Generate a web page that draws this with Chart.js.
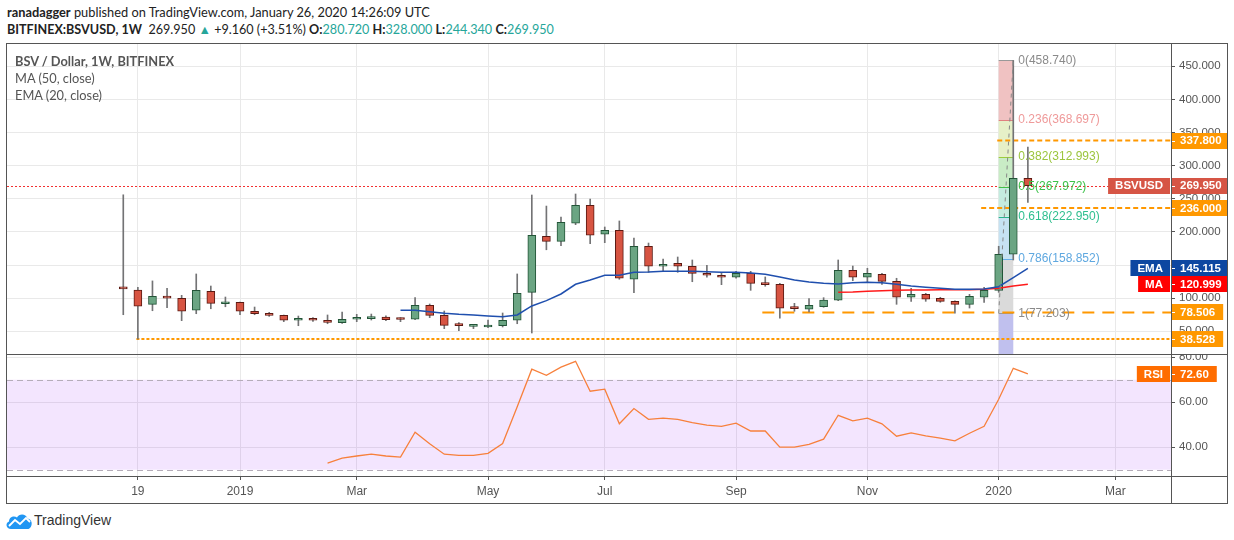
<!DOCTYPE html>
<html>
<head>
<meta charset="utf-8">
<script src="https://cdn.jsdelivr.net/npm/chart.js@4.4.1/dist/chart.umd.min.js"></script>
<style>
  body { margin: 0; width: 1234px; height: 540px; background: #fff; position: relative; overflow: hidden;
         font-family: "Liberation Sans", Arial, sans-serif; }
  .abs { position: absolute; }
  #h1 { left: 7px; top: 4px; font-family: Lato, sans-serif; font-size: 12.8px; color: #222; white-space: nowrap; }
  #h2 { left: 7px; top: 22px; font-family: Lato, sans-serif; font-size: 12.6px; color: #222; white-space: nowrap; }
  .up { color: #26a69a; }
  #legend { left: 15px; top: 53px; font-family: Lato, sans-serif; font-size: 12.8px; color: #555; line-height: 17px; }
  #legend div:first-child { font-weight: bold; }
  .line { position: absolute; background: #555; }
  #foot { left: 34px; top: 512px; font-size: 14px; color: #333; }
</style>
</head>
<body>
<div class="abs" id="h1"><b>ranadagger</b> published on TradingView.com, January 26, 2020 14:26:09 UTC</div>
<div class="abs" id="h2"><b>BITFINEX:BSVUSD, 1W</b>&nbsp; 269.950 <span class="up">▲</span> +9.160 (+3.51%) <b>O:</b><span class="up">280.720</span> <b>H:</b><span class="up">328.000</span> <b>L:</b><span class="up">244.340</span> <b>C:</b><span class="up">269.950</span></div>

<div class="abs" style="left:7px;top:44px;width:1220px;height:310px"><canvas id="price" width="1220" height="310"></canvas></div>
<div class="abs" style="left:7px;top:355px;width:1220px;height:148px"><canvas id="rsi" width="1220" height="148"></canvas></div>

<div class="abs" id="legend"><div>BSV / Dollar, 1W, BITFINEX</div><div>MA (50, close)</div><div>EMA (20, close)</div></div>

<div class="line" style="left:6px;top:43px;width:1222px;height:1px"></div>
<div class="line" style="left:6px;top:503px;width:1222px;height:1px"></div>
<div class="line" style="left:6px;top:43px;width:1px;height:461px"></div>
<div class="line" style="left:1227px;top:43px;width:1px;height:461px"></div>
<div class="line" style="left:6px;top:354px;width:1222px;height:1px"></div>
<div class="line" style="left:6px;top:476px;width:1222px;height:1px"></div>
<div class="line" style="left:1171px;top:43px;width:1px;height:461px"></div>

<svg class="abs" style="left:5px;top:513px" width="28" height="17" viewBox="0 0 28 17">
  <path d="M6 16 C1 16 0 10 4 8.5 C4 4 9 2 12 4.5 C14 0.5 21 0.5 22.5 5.5 C27 6 28 12 25 15 C24 16 23 16 22 16 Z" fill="#2196f3"/>
  <polyline points="4,13 10,7 15,11 21,5 25,9" fill="none" stroke="#fff" stroke-width="1.8"/>
</svg>
<div class="abs" id="foot">TradingView</div>

<script>
const FONT = '"Liberation Sans", Arial, sans-serif';

// weekly candles, week 0 = 12 Nov 2018
const opens  = [115,112,90.7,101.5,99.8,81.7,110.3,91.6,93.7,80.2,
                77.1,74.1,66.6,69.6,64.8,63,68.1,69,71.5,68.6,
                68.1,89.2,74.1,59.5,57.5,56.5,58.4,66.6,108.8,193.4,
                185.8,213,240.2,196.4,202.4,128.5,178.3,148.1,152.6,148.1,
                137.5,134.5,131.5,137.5,121.5,120.9,85.2,83.2,87.1,96.8,
                142,131.5,136,125.4,101.3,105.8,99.8,95.2,90.7,101.3,
                111.8,166.2,280.72];
const highs  = [256,116.5,126,115,104.3,136.5,118.3,101.7,94,86.6,
                78.6,74.5,73,70.5,74.6,79,75.6,76,73.5,70.5,
                100.7,91.2,80.6,63,60,67,77.6,136.5,255.7,239,
                222.5,257.2,249.7,207.4,216.5,190.8,183.2,159.1,162.1,157.6,
                149.6,139,140.5,140.5,132,122.4,92.2,99.2,100.7,157.6,
                148.5,145.1,137.5,130,114.9,107.3,101.3,96,105.8,116.4,
                178.3,458.74,328];
const lows   = [75,38.53,81,85.5,66,76.5,84,87,75,75,
                72.5,64.5,58.4,65,61.4,62,64.5,67,66,64.5,
                67.5,70.5,53.9,51,54,55.4,56.5,61.4,47.4,173,
                179.2,210.9,182.2,183.7,128.5,108.2,139,140.5,139,124.8,
                131.5,120.3,130,111.8,118,69.6,80.2,79.1,86.2,96.2,
                126.3,123.9,120.9,90.7,95.2,95.2,93.7,77.203,85.1,93.7,
                108.8,157.6,244.34];
const closes = [114,88,102.8,100,80.2,111.8,92.2,94.2,80.2,76.5,
                74.1,66.6,69.6,66.6,63.5,68.1,70.5,72,67.5,67.8,
                89.2,74.1,59,58.5,58.5,59.5,66.6,107.3,194.9,185.8,
                214.5,240.2,194.9,202.4,130,178.3,148.1,151.1,148.1,137.5,
                134.5,131.5,137.5,122.4,120.5,84.7,84.2,89.2,97.2,142,
                131.5,137.5,125.4,101.3,105.8,98.3,95.2,90.7,102.8,111.8,
                166.2,280.72,269.95];
const weeks = opens.map((_, i) => i);

const emaStart = 19;
const ema20 = [81.7,81.7,79.5,77.1,75.6,74.6,73.1,72,74.6,88.2,
               96.2,106.3,120.9,127.4,134.5,134.5,139,139.5,140.5,140.5,
               140.5,139.9,139,139,138,136,131.9,127.4,124.4,122.4,
               121.4,123.3,123.9,123.3,120.9,118.3,116.4,114.9,113.4,113.4,
               113.8,117.3,130.9,145.115];
const maStart = 49;
const ma50 = [108.8,109.3,110.3,111.2,111.8,112.3,112.3,112.8,112.8,112.8,113.4,114.9,118.3,120.999];
const rsiStart = 14;
const rsi14 = [32.9,35.1,36.1,36.9,36.1,35.6,
               46.7,41.5,36.9,36.4,36.4,37.3,41.6,58,74.7,72,
               75.6,78.2,64.9,65.8,50.4,57.2,52.4,52.9,52.4,50.9,
               49.8,49.3,50.7,47.2,47.2,40,40,41.3,43.6,54.2,
               51.7,52.9,50.4,44.9,46.4,45,44,42.8,46.2,49.3,
               61.3,75.1,72.6];

// horizontal levels drawn on the chart (value, first week); [0] is the last price line
const levelVals  = [269.95, 337.8, 236.0, 78.506, 38.528];
const levelFrom  = [-8, 59.9, 58.8, 43.8, 0.9];

// fibonacci retracement
const fibHigh = 458.74, fibLow = 77.203;
const fibFromWeek = 60, fibToWeek = 61;
const fibRatios = [0, 0.236, 0.382, 0.5, 0.618, 0.786, 1];

const tickIdx    = [1, 8, 16, 25, 33, 42, 51, 60, 68];
const tickLabels = ['19', '2019', 'Mar', 'May', 'Jul', 'Sep', 'Nov', '2020', 'Mar'];
const priceTicks = [50, 100, 150, 200, 250, 300, 350, 400, 450];
const rsiTicks   = [40, 60, 80];
const rsiBand    = [70, 30];

const X_MIN = -7.97, X_MAX = 71.81;
const series = (start, vals) => vals.map((v, k) => ({ x: start + k, y: v }));
const fibLevels = fibRatios.map(r => fibHigh - r * (fibHigh - fibLow));
const fibFill = ['#f0c2c2', '#e6f0c8', '#c9ecc6', '#c4ecdf', '#c6e2f2', '#dadada', '#c0c0ee'];
const fibLine = ['#999999', '#e08080', '#9ccc3c', '#43c04a', '#26b58a', '#64aee6', '#999999'];
const fibText = ['#8a8a8a', '#ef9a9a', '#9bc53d', '#3cc24a', '#2fbf8f', '#5fa8e0', '#8a8a8a'];

// no extra padding from edge labels, so the plot fills the pane
const noPad = sc => { sc.paddingTop = 0; sc.paddingBottom = 0; sc.paddingLeft = 0; sc.paddingRight = 0; };

function xScale(showTicks) {
  return {
    type: 'linear', min: X_MIN, max: X_MAX, offset: false,
    afterBuildTicks: sc => { sc.ticks = tickIdx.map(v => ({ value: v })); },
    afterFit: sc => { noPad(sc); sc.height = showTicks ? 27 : 0; },
    grid: { color: '#e9e9e9', offset: false, drawTicks: showTicks, tickLength: 4, tickColor: '#555' },
    border: { display: false },
    ticks: { display: showTicks, autoSkip: false, maxRotation: 0, padding: 4, color: '#555',
             font: { family: FONT, size: 12 }, callback: (v, i) => tickLabels[i] }
  };
}

function yScale(min, max, ticks, digits) {
  return {
    position: 'right', min: min, max: max,
    afterBuildTicks: sc => { sc.ticks = ticks.map(v => ({ value: v })); },
    afterFit: sc => { noPad(sc); sc.width = 56; },
    grid: { color: '#e9e9e9', tickLength: 4, tickColor: '#555' },
    border: { display: false },
    ticks: { color: '#555', padding: 4, font: { family: FONT, size: 11.5 }, callback: v => v.toFixed(digits) }
  };
}

function tag(ctx, x, yc, text, bg, left) {
  ctx.font = 'bold 11.5px ' + FONT;
  const w = ctx.measureText(text).width + (left ? 14 : 17);
  const bx = left ? x - w : x;
  ctx.fillStyle = bg;
  ctx.fillRect(bx, Math.round(yc) - 8, w, 16);
  ctx.fillStyle = '#fff';
  ctx.textBaseline = 'middle';
  ctx.textAlign = 'left';
  ctx.fillText(text, bx + (left ? 7 : 9), yc + 0.5);
  if (!left) ctx.fillRect(x, Math.round(yc), 4, 1);
}

const pricePane = {
  id: 'pricePane',
  beforeDatasetsDraw(chart) {
    const { ctx, chartArea: a, scales: { x, y } } = chart;
    ctx.save();
    ctx.beginPath(); ctx.rect(a.left, a.top, a.width, a.height); ctx.clip();
    // last price line, snapped to a pixel row so it stays red
    const yp = Math.round(y.getPixelForValue(levelVals[0])) + 0.5;
    ctx.strokeStyle = '#f23030'; ctx.lineWidth = 1; ctx.setLineDash([2, 2]);
    ctx.beginPath(); ctx.moveTo(a.left, yp); ctx.lineTo(a.right, yp); ctx.stroke();
    ctx.setLineDash([]);
    const x0 = x.getPixelForValue(fibFromWeek), x1 = x.getPixelForValue(fibToWeek);
    for (let k = 0; k < fibLevels.length; k++) {
      const ya = y.getPixelForValue(fibLevels[k]);
      const yb = k < fibLevels.length - 1 ? y.getPixelForValue(fibLevels[k + 1]) : a.bottom;
      ctx.fillStyle = fibFill[k];
      ctx.fillRect(x0, ya, x1 - x0, yb - ya);
    }
    for (let k = 0; k < fibLevels.length; k++) {
      const ya = Math.round(y.getPixelForValue(fibLevels[k])) + 0.5;
      ctx.strokeStyle = fibLine[k]; ctx.lineWidth = 1;
      ctx.beginPath(); ctx.moveTo(x0, ya); ctx.lineTo(x1, ya); ctx.stroke();
    }
    ctx.restore();
  },
  afterDatasetsDraw(chart) {
    const { ctx, scales: { x, y } } = chart;
    const x1 = x.getPixelForValue(fibToWeek);
    ctx.save();
    ctx.font = '12px ' + FONT;
    ctx.textBaseline = 'middle';
    ctx.textAlign = 'left';
    fibLevels.forEach((lv, k) => {
      ctx.fillStyle = fibText[k];
      ctx.fillText(String(fibRatios[k]) + '(' + (lv + 1e-7).toFixed(3) + ')', x1 + 5, y.getPixelForValue(lv));
    });
    ctx.restore();
  },
  afterDraw(chart) {
    const { ctx, chartArea: a, scales: { y } } = chart;
    const last = closes.length - 1;
    ctx.save();
    const orange = '#ff9800';
    for (let k = 1; k < levelVals.length; k++) {
      tag(ctx, a.right, y.getPixelForValue(levelVals[k]), levelVals[k].toFixed(3), orange);
    }
    const pc = y.getPixelForValue(closes[last]);
    tag(ctx, a.right, pc, closes[last].toFixed(3), '#d65545');
    tag(ctx, a.right - 1, pc, 'BSVUSD', '#d65545', true);
    const pe = y.getPixelForValue(ema20[ema20.length - 1]);
    tag(ctx, a.right, pe, ema20[ema20.length - 1].toFixed(3), '#0d47a1');
    tag(ctx, a.right - 1, pe, 'EMA', '#0d47a1', true);
    const pm = y.getPixelForValue(ma50[ma50.length - 1]);
    tag(ctx, a.right, pm, ma50[ma50.length - 1].toFixed(3), '#ff0000');
    tag(ctx, a.right - 1, pm, 'MA', '#ff0000', true);
    ctx.restore();
  }
};

const upFill = '#6ba583', upLine = '#225437', dnFill = '#d75442', dnLine = '#5b1a13';
const isUp = weeks.map(i => closes[i] >= opens[i]);
const hLine = (k, color, dash, width) => ({
  type: 'line', data: [{ x: levelFrom[k], y: levelVals[k] }, { x: X_MAX, y: levelVals[k] }],
  borderColor: color, borderDash: dash, borderWidth: width, pointRadius: 0, order: 5
});

new Chart(document.getElementById('price'), {
  type: 'bar',
  data: {
    datasets: [
      hLine(1, '#ff9800', [5, 3], 2),
      hLine(2, '#ff9800', [5, 3], 2),
      hLine(3, '#ff9800', [12, 8], 2),
      hLine(4, '#ff9800', [3, 2], 2),
      { type: 'line', data: [{ x: fibFromWeek, y: fibLow }, { x: fibToWeek, y: fibHigh }],
        borderColor: '#888', borderDash: [4, 4], borderWidth: 1, pointRadius: 0, order: 1 },
      { type: 'line', data: series(emaStart, ema20), borderColor: '#1f4fae', borderWidth: 1.5,
        pointRadius: 0, order: 2 },
      { type: 'line', data: series(maStart, ma50), borderColor: '#ff1a1a', borderWidth: 1.5,
        pointRadius: 0, order: 3 },
      { type: 'bar', grouped: false, order: 4, barThickness: 1,
        data: weeks.map(i => ({ x: i, y: [lows[i], highs[i]] })),
        backgroundColor: '#737375', borderWidth: 0 },
      { type: 'bar', grouped: false, order: 3.5, barThickness: 8, minBarLength: 2,
        data: weeks.map(i => ({ x: i, y: [opens[i], closes[i]] })),
        backgroundColor: isUp.map(u => u ? upFill : dnFill),
        borderColor: isUp.map(u => u ? upLine : dnLine),
        borderWidth: 1, borderSkipped: false }
    ]
  },
  options: {
    responsive: false, animation: false,
    layout: { padding: 0 },
    plugins: { legend: { display: false }, tooltip: { enabled: false } },
    scales: { x: xScale(false), y: yScale(15.7, 483.6, priceTicks, 3) }
  },
  plugins: [pricePane]
});

const rsiPane = {
  id: 'rsiPane',
  beforeDatasetsDraw(chart) {
    const { ctx, chartArea: a, scales: { y } } = chart;
    const yt = y.getPixelForValue(rsiBand[0]), yb = y.getPixelForValue(rsiBand[1]);
    ctx.save();
    ctx.fillStyle = 'rgba(156, 39, 246, 0.12)';
    ctx.fillRect(a.left, yt, a.width, yb - yt);
    ctx.strokeStyle = '#b5adb9'; ctx.lineWidth = 1; ctx.setLineDash([6, 4]);
    [yt, yb].forEach(p => {
      ctx.beginPath(); ctx.moveTo(a.left, Math.round(p) + 0.5); ctx.lineTo(a.right, Math.round(p) + 0.5); ctx.stroke();
    });
    ctx.restore();
  },
  afterDraw(chart) {
    const { ctx, chartArea: a, scales: { y } } = chart;
    const v = rsi14[rsi14.length - 1];
    ctx.save();
    tag(ctx, a.right, y.getPixelForValue(v), v.toFixed(2), '#ff6d00');
    tag(ctx, a.right - 1, y.getPixelForValue(v), 'RSI', '#ff6d00', true);
    ctx.restore();
  }
};

new Chart(document.getElementById('rsi'), {
  type: 'line',
  data: {
    datasets: [
      { data: series(rsiStart, rsi14), borderColor: '#f7803c', borderWidth: 1.3, pointRadius: 0, tension: 0 }
    ]
  },
  options: {
    responsive: false, animation: false,
    layout: { padding: 0 },
    plugins: { legend: { display: false }, tooltip: { enabled: false } },
    scales: { x: xScale(true), y: yScale(27.2, 81.0, rsiTicks, 2) }
  },
  plugins: [rsiPane]
});
</script>
</body>
</html>
